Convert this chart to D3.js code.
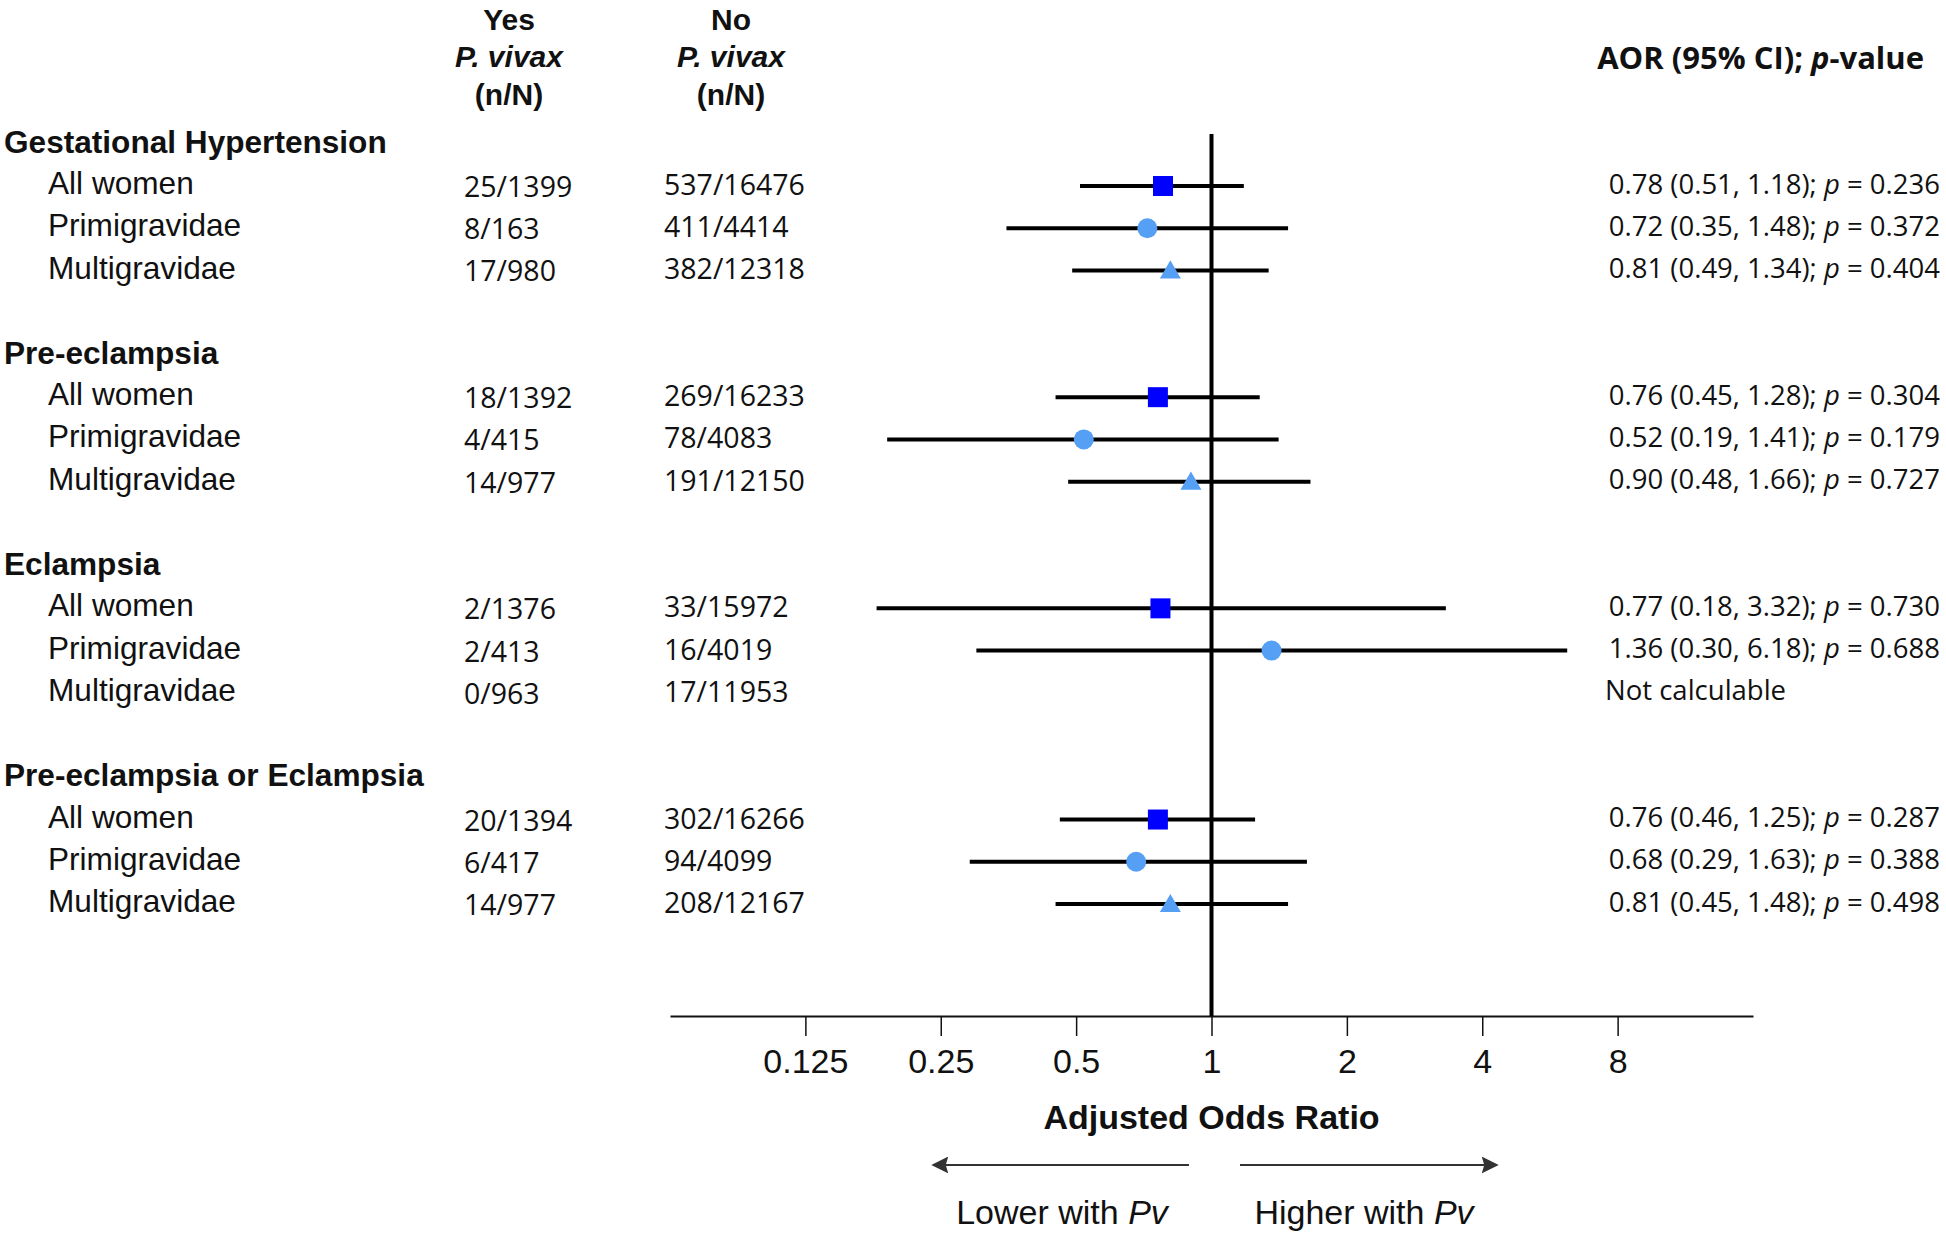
<!DOCTYPE html>
<html>
<head>
<meta charset="utf-8">
<script src="https://cdn.jsdelivr.net/npm/d3@7"></script>
<style>
  html, body { margin: 0; padding: 0; background: #fff; }
  svg { display: block; }
</style>
</head>
<body>
<svg id="chart" width="1946" height="1238"></svg>
<script>
// ---------- data ----------
const groups = ["Gestational Hypertension", "Pre-eclampsia", "Eclampsia", "Pre-eclampsia or Eclampsia"];
const subgroups = ["All women", "Primigravidae", "Multigravidae"];
const yesCounts = ["25/1399", "8/163", "17/980", "18/1392", "4/415", "14/977", "2/1376", "2/413", "0/963", "20/1394", "6/417", "14/977"];
const noCounts = ["537/16476", "411/4414", "382/12318", "269/16233", "78/4083", "191/12150", "33/15972", "16/4019", "17/11953", "302/16266", "94/4099", "208/12167"];
const aor = [0.78, 0.72, 0.81, 0.76, 0.52, 0.90, 0.77, 1.36, null, 0.76, 0.68, 0.81];
const ciLower = [0.51, 0.35, 0.49, 0.45, 0.19, 0.48, 0.18, 0.30, null, 0.46, 0.29, 0.45];
const ciUpper = [1.18, 1.48, 1.34, 1.28, 1.41, 1.66, 3.32, 6.18, null, 1.25, 1.63, 1.48];
const pValues = ["0.236", "0.372", "0.404", "0.304", "0.179", "0.727", "0.730", "0.688", null, "0.287", "0.388", "0.498"];
const tickValues = [0.125, 0.25, 0.5, 1, 2, 4, 8];
const tickLabels = ["0.125", "0.25", "0.5", "1", "2", "4", "8"];

// ---------- layout ----------
const svg = d3.select("#chart");
const labelFont = "'Liberation Sans', Arial, Helvetica, sans-serif";
const numFont = "'Open Sans', 'Noto Sans', sans-serif";

const x = d3.scaleLog().base(2).domain([1 / 16, 16]).range([670, 1753]);
// row index: each group takes 5 slots (title, 3 rows, blank)
const y = d3.scaleLinear().domain([0, 17]).range([186, 904]);

const rows = [];
groups.forEach((g, gi) => {
  subgroups.forEach((s, si) => {
    const i = gi * 3 + si;
    rows.push({
      group: g, sub: s, slot: gi * 5 + si,
      yes: yesCounts[i], no: noCounts[i],
      est: aor[i], lo: ciLower[i], hi: ciUpper[i], p: pValues[i]
    });
  });
});

// ---------- column headers ----------
const headerLines = [["Yes", "P. vivax", "(n/N)"], ["No", "P. vivax", "(n/N)"]];
const headerX = [509, 731];
const headerY = [19, 56, 94];
headerLines.forEach((lines, ci) => {
  lines.forEach((t, li) => {
    svg.append("text")
      .attr("x", headerX[ci]).attr("y", headerY[li]).attr("dy", "0.35em")
      .attr("text-anchor", "middle")
      .attr("font-family", labelFont).attr("font-size", 30).attr("font-weight", "bold")
      .attr("font-style", li === 1 ? "italic" : "normal")
      .attr("fill", "#111")
      .text(t);
  });
});

const aorHead = svg.append("text")
  .attr("x", 1924).attr("y", 58).attr("dy", "0.35em")
  .attr("text-anchor", "end")
  .attr("font-family", numFont).attr("font-size", 31).attr("font-weight", "bold")
  .attr("fill", "#111");
aorHead.append("tspan").text("AOR (95% CI); ");
aorHead.append("tspan").attr("font-style", "italic").text("p");
aorHead.append("tspan").text("-value");

// ---------- group titles ----------
groups.forEach((g, gi) => {
  svg.append("text")
    .attr("x", 4).attr("y", y(gi * 5 - 1) - 2).attr("dy", "0.35em")
    .attr("font-family", labelFont).attr("font-size", 31.6).attr("font-weight", "bold")
    .attr("fill", "#111")
    .text(g);
});

// ---------- row texts ----------
const rowG = svg.append("g");
rowG.selectAll("text.sub").data(rows).join("text")
  .attr("class", "sub")
  .attr("x", 48).attr("y", d => y(d.slot) - 3).attr("dy", "0.35em")
  .attr("font-family", labelFont).attr("font-size", 31.6).attr("fill", "#111")
  .text(d => d.sub);

rowG.selectAll("text.yes").data(rows).join("text")
  .attr("class", "yes")
  .attr("x", 464).attr("y", d => y(d.slot) + 1).attr("dy", "0.35em")
  .attr("font-family", numFont).attr("font-size", 28.5).attr("fill", "#111")
  .text(d => d.yes);

rowG.selectAll("text.no").data(rows).join("text")
  .attr("class", "no")
  .attr("x", 664).attr("y", d => y(d.slot) - 1).attr("dy", "0.35em")
  .attr("font-family", numFont).attr("font-size", 28.5).attr("fill", "#111")
  .text(d => d.no);

const aorText = rowG.selectAll("text.aor").data(rows).join("text")
  .attr("class", "aor")
  .attr("x", d => d.est == null ? 1605 : 1940)
  .attr("text-anchor", d => d.est == null ? "start" : "end")
  .attr("y", d => y(d.slot) - 2).attr("dy", "0.35em")
  .attr("font-family", numFont).attr("font-size", 27.5).attr("fill", "#111");
aorText.each(function (d) {
  const t = d3.select(this);
  if (d.est == null) { t.text("Not calculable"); return; }
  t.append("tspan").text(`${d.est.toFixed(2)} (${d.lo.toFixed(2)}, ${d.hi.toFixed(2)}); `);
  t.append("tspan").attr("font-style", "italic").text("p");
  t.append("tspan").text(` = ${d.p}`);
});

// ---------- axis ----------
const axis = d3.axisBottom(x)
  .tickValues(tickValues)
  .tickFormat((d, i) => tickLabels[i])
  .tickSize(20).tickSizeOuter(0).tickPadding(13);
const axG = svg.append("g").attr("transform", "translate(0,1016)").call(axis);
axG.select(".domain").attr("stroke", "#111").attr("stroke-width", 2);
axG.selectAll(".tick line").attr("stroke", "#111").attr("stroke-width", 1.5);
axG.selectAll(".tick text")
  .attr("font-family", labelFont).attr("font-size", 34).attr("fill", "#111");

// reference line at 1
svg.append("line")
  .attr("x1", x(1)).attr("x2", x(1)).attr("y1", 134).attr("y2", 1016)
  .attr("stroke", "#000").attr("stroke-width", 4);

// CI lines
const est = rows.filter(d => d.est != null);
svg.append("g").selectAll("line").data(est).join("line")
  .attr("x1", d => x(d.lo)).attr("x2", d => x(d.hi))
  .attr("y1", d => y(d.slot)).attr("y2", d => y(d.slot))
  .attr("stroke", "#000").attr("stroke-width", 4);

// markers
const symType = { "All women": d3.symbolSquare, "Primigravidae": d3.symbolCircle, "Multigravidae": d3.symbolTriangle };
const symColor = { "All women": "#0000ff", "Primigravidae": "#55a0f5", "Multigravidae": "#55a0f5" };
const symSize = { "All women": 20 * 20, "Primigravidae": Math.PI * 10 * 10, "Multigravidae": 21 * 21 * Math.sqrt(3) / 4 };
svg.append("g").selectAll("path").data(est).join("path")
  .attr("transform", d => `translate(${x(d.est)},${y(d.slot) + (d.sub === "Multigravidae" ? 2 : 0)})`)
  .attr("d", d => d3.symbol(symType[d.sub], symSize[d.sub])())
  .attr("fill", d => symColor[d.sub]);

// axis title
svg.append("text")
  .attr("x", x(1)).attr("y", 1117).attr("dy", "0.35em")
  .attr("text-anchor", "middle")
  .attr("font-family", labelFont).attr("font-size", 34).attr("font-weight", "bold")
  .attr("fill", "#111")
  .text("Adjusted Odds Ratio");

// direction arrows
const defs = svg.append("defs");
defs.append("marker")
  .attr("id", "ah").attr("viewBox", "0 0 10 10").attr("refX", 9).attr("refY", 5)
  .attr("markerWidth", 17).attr("markerHeight", 17).attr("markerUnits", "userSpaceOnUse")
  .attr("orient", "auto")
  .append("path").attr("d", "M0,0 L10,5 L0,10 L1.5,5 Z").attr("fill", "#333");

svg.append("line")
  .attr("x1", 1189).attr("x2", 933).attr("y1", 1165).attr("y2", 1165)
  .attr("stroke", "#333").attr("stroke-width", 2).attr("marker-end", "url(#ah)");
svg.append("line")
  .attr("x1", 1240).attr("x2", 1497).attr("y1", 1165).attr("y2", 1165)
  .attr("stroke", "#333").attr("stroke-width", 2).attr("marker-end", "url(#ah)");

const lowT = svg.append("text")
  .attr("x", 1062).attr("y", 1212).attr("dy", "0.35em").attr("text-anchor", "middle")
  .attr("font-family", labelFont).attr("font-size", 34).attr("fill", "#111");
lowT.append("tspan").text("Lower with ");
lowT.append("tspan").attr("font-style", "italic").text("Pv");
const highT = svg.append("text")
  .attr("x", 1364).attr("y", 1212).attr("dy", "0.35em").attr("text-anchor", "middle")
  .attr("font-family", labelFont).attr("font-size", 34).attr("fill", "#111");
highT.append("tspan").text("Higher with ");
highT.append("tspan").attr("font-style", "italic").text("Pv");
</script>
</body>
</html>
